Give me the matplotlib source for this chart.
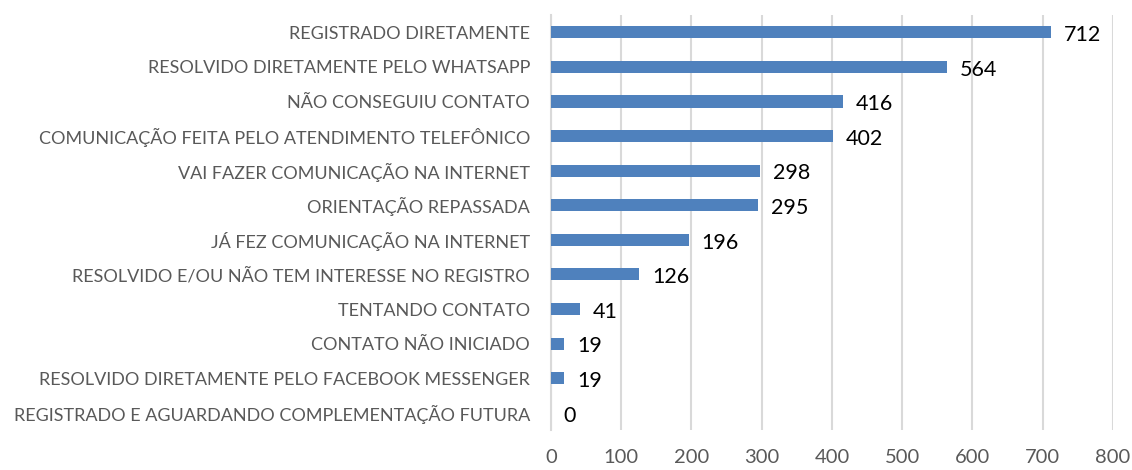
import matplotlib.pyplot as plt

# Data (top to bottom as in the chart)
categories = [
    'REGISTRADO DIRETAMENTE',
    'RESOLVIDO DIRETAMENTE PELO WHATSAPP',
    'NÃO CONSEGUIU CONTATO',
    'COMUNICAÇÃO FEITA PELO ATENDIMENTO TELEFÔNICO',
    'VAI FAZER COMUNICAÇÃO NA INTERNET',
    'ORIENTAÇÃO REPASSADA',
    'JÁ FEZ COMUNICAÇÃO NA INTERNET',
    'RESOLVIDO E/OU NÃO TEM INTERESSE NO REGISTRO',
    'TENTANDO CONTATO',
    'CONTATO NÃO INICIADO',
    'RESOLVIDO DIRETAMENTE PELO FACEBOOK MESSENGER',
    'REGISTRADO E AGUARDANDO COMPLEMENTAÇÃO FUTURA',
]
values = [712, 564, 416, 402, 298, 295, 196, 126, 41, 19, 19, 0]
x_ticks = [0, 100, 200, 300, 400, 500, 600, 700, 800]

plt.rcParams['font.family'] = ['Lato', 'DejaVu Sans']

fig = plt.figure(figsize=(11.32, 4.70), dpi=100)
ax = fig.add_axes([0.4867, 0.085, 0.4965, 0.883])

pos = list(range(len(categories)))
ax.barh(pos, values, height=0.35, color='#4F81BD', zorder=3)

for p, v in zip(pos, values):
    ax.text(v + 18, p + 0.08, str(v), va='center', ha='left',
            fontsize=15.5, color='black')

ax.set_yticks(pos)
ax.set_yticklabels(categories, fontsize=13, color='#595959')
ax.set_ylim(len(categories) - 0.5, -0.5)

ax.set_xlim(0, 800)
ax.set_xticks(x_ticks)
ax.set_xticklabels([str(t) for t in x_ticks], fontsize=14.5, color='#595959')

ax.grid(axis='x', color='#D9D9D9', linewidth=1.5, zorder=0)
for s in ['top', 'right', 'bottom']:
    ax.spines[s].set_visible(False)
ax.spines['left'].set_color('#D9D9D9')
ax.spines['left'].set_linewidth(1.5)
ax.tick_params(axis='both', length=0)
ax.tick_params(axis='x', pad=14)
ax.tick_params(axis='y', pad=15)

plt.savefig('out.png')
